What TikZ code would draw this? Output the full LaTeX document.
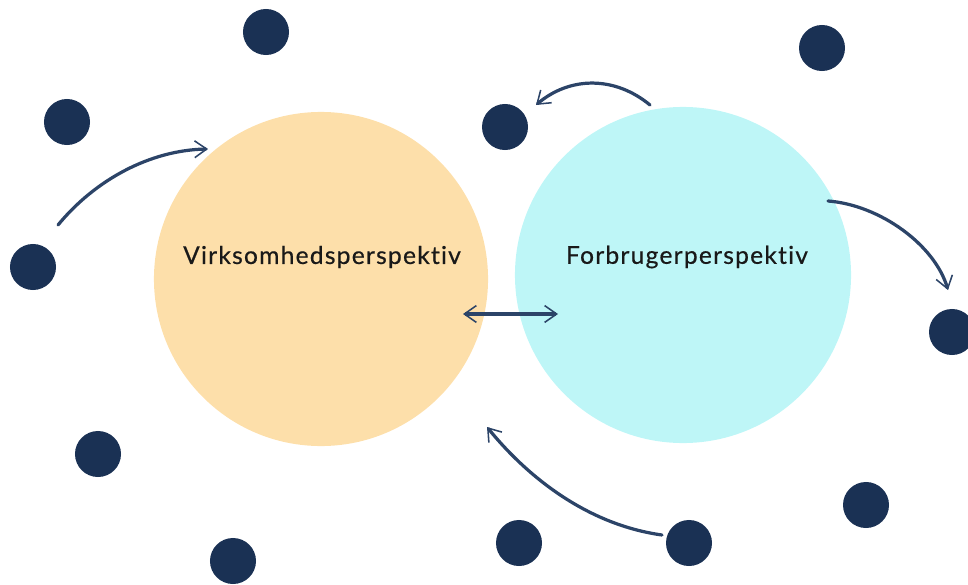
\documentclass[tikz,border=0pt]{standalone}
\usepackage{fontspec}
\newfontfamily\perspfont[LetterSpace=5,Ligatures=NoCommon,FakeBold=0.5]{Lato}
\usetikzlibrary{arrows.meta}

\definecolor{navy}{HTML}{1A3154}
\definecolor{inkblue}{HTML}{2C4468}
\definecolor{peach}{HTML}{FDDFAA}
\definecolor{aqua}{HTML}{BEF6F7}

\begin{document}
\begin{tikzpicture}[x=0.025cm,y=-0.025cm]
\tikzset{
  bigcircle/.style={circle,minimum size=#1,inner sep=0pt},
  dot/.style={circle,fill=navy,minimum size=1.15cm,inner sep=0pt},
  persplabel/.style={font=\perspfont\fontsize{17.5}{20}\selectfont,text=black!90},
  sketcharrow/.style={-{Straight Barb[length=3mm,width=4.2mm,line width=1.1pt]},inkblue,line width=2.3pt,line cap=round},
  twoway/.style={{Straight Barb[length=3mm,width=4.2mm,line width=1.1pt]}-{Straight Barb[length=3mm,width=4.2mm,line width=1.1pt]},inkblue,line width=2.3pt}
}
\useasboundingbox (0,0) rectangle (968,585);
% the two perspectives
\node[bigcircle=8.35cm,fill=peach] (n_virk) at (321,279) {};
\node[bigcircle=8.4cm,fill=aqua] (n_forb) at (683,275) {};
\node[persplabel] (l_virk) at (322,257) {Virksomhedsperspektiv};
\node[persplabel] (l_forb) at (687,257) {Forbrugerperspektiv};
% dots
\node[dot] (n_d1) at (266,32) {};
\node[dot] (n_d2) at (67,122) {};
\node[dot] (n_d3) at (33,267) {};
\node[dot] (n_d4) at (98,454) {};
\node[dot] (n_d5) at (233,561) {};
\node[dot] (n_d6) at (505,127) {};
\node[dot] (n_d7) at (822,48) {};
\node[dot] (n_d8) at (952,332) {};
\node[dot] (n_d9) at (866,505) {};
\node[dot] (n_d10) at (689,543) {};
\node[dot] (n_d11) at (519,543) {};
% arrow ends
\coordinate (a1s) at (58,225);
\coordinate (a1e) at (208,149);
\coordinate (a2s) at (650,105);
\coordinate (a2e) at (536,105);
\coordinate (a3s) at (828,201);
\coordinate (a3e) at (948,290);
\coordinate (a4s) at (662,535);
\coordinate (a4e) at (487,427);
\coordinate (a5s) at (463,314);
\coordinate (a5e) at (558,314);
\draw[sketcharrow] (a1s) .. controls (95,180) and (150,150) .. (a1e);
\draw[sketcharrow] (a2s) .. controls (615,76) and (570,76) .. (a2e);
\draw[sketcharrow] (a3s) .. controls (880,205) and (935,245) .. (a3e);
\draw[sketcharrow] (a4s) .. controls (590,525) and (530,480) .. (a4e);
\draw[twoway] (a5s) -- (a5e);
\end{tikzpicture}
\end{document}
